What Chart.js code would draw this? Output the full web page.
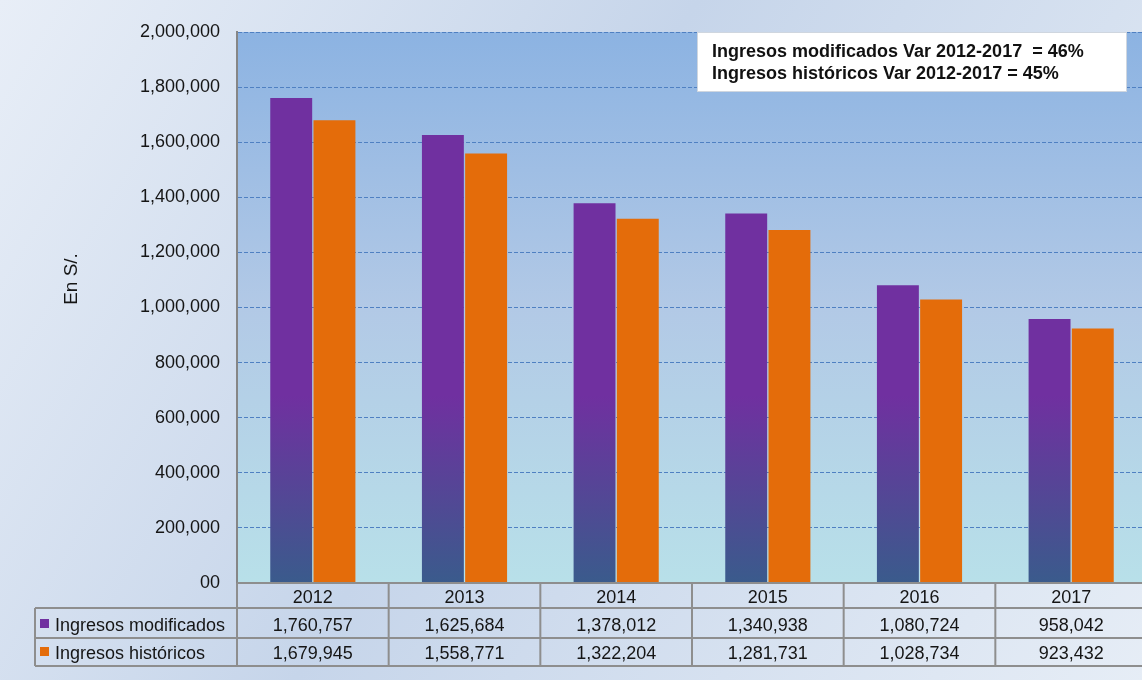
<!DOCTYPE html>
<html><head><meta charset="utf-8">
<script src="https://cdn.jsdelivr.net/npm/chart.js@4.4.1/dist/chart.umd.min.js"></script>
<style>html,body{margin:0;padding:0;overflow:hidden;width:1142px;height:680px;background:#dfe7f2}canvas{display:block}</style>
</head><body><canvas id="c" width="1147" height="680"></canvas>
<script>
const categories = ['2012','2013','2014','2015','2016','2017'];
const modificados = [1760757,1625684,1378012,1340938,1080724,958042];
const historicos = [1679945,1558771,1322204,1281731,1028734,923432];
const seriesNames = ['Ingresos modificados','Ingresos históricos'];
const noteLines = ['Ingresos modificados Var 2012-2017  = 46%','Ingresos históricos Var 2012-2017 = 45%'];
const yTitle = 'En S/.';
const yMax = 2000000, yStep = 200000;

const FONT = '"Liberation Sans", Arial, sans-serif';
const TXT = '#151515';
const PURPLE = '#7030a0', BLUEBOT = '#3a5b8c', ORANGE = '#e46c0a';
const fmt = v => v === 0 ? '00' : v.toLocaleString('en-US');

const bgPlugin = {
  id: 'bg',
  beforeDraw(chart) {
    const {ctx, chartArea: a, width, height} = chart;
    ctx.save();
    let g = ctx.createLinearGradient(0, 0, width, height);
    g.addColorStop(0, '#e8eef7'); g.addColorStop(0.45, '#c6d5ea'); g.addColorStop(1, '#e6edf6');
    ctx.fillStyle = g; ctx.fillRect(0, 0, width, height);
    g = ctx.createLinearGradient(0, a.top, 0, a.bottom);
    g.addColorStop(0, '#8cb3e2'); g.addColorStop(0.5, '#b2c9e6'); g.addColorStop(1, '#b8e0e9');
    ctx.fillStyle = g; ctx.fillRect(a.left, a.top, a.right - a.left, a.bottom - a.top);
    ctx.restore();
  }
};

const tablePlugin = {
  id: 'tbl',
  afterDraw(chart) {
    const {ctx, chartArea: a} = chart;
    const xs = chart.scales.x;
    const half = (xs.getPixelForValue(1) - xs.getPixelForValue(0)) / 2;
    const rows = [a.bottom, 608, 638, 666];
    const legL = 35, right = chart.width;
    ctx.save();
    ctx.strokeStyle = '#8e8e8e'; ctx.lineWidth = 2;
    ctx.beginPath();
    ctx.moveTo(a.left, rows[0]); ctx.lineTo(right, rows[0]);
    for (let r = 1; r < rows.length; r++) { ctx.moveTo(legL, rows[r]); ctx.lineTo(right, rows[r]); }
    ctx.moveTo(legL, rows[1]); ctx.lineTo(legL, rows[3]);
    ctx.moveTo(a.left, rows[0]); ctx.lineTo(a.left, rows[3]);
    categories.forEach((c, i) => {
      const xr = xs.getPixelForValue(i) + half;
      ctx.moveTo(xr, rows[0]); ctx.lineTo(xr, rows[3]);
    });
    ctx.stroke();
    ctx.fillStyle = TXT; ctx.font = '18px ' + FONT; ctx.textBaseline = 'alphabetic';
    ctx.textAlign = 'center';
    const series = [modificados, historicos];
    categories.forEach((c, i) => {
      const cx = xs.getPixelForValue(i);
      ctx.fillText(c, cx, 603);
      ctx.fillText(fmt(series[0][i]), cx, 631);
      ctx.fillText(fmt(series[1][i]), cx, 659);
    });
    ctx.textAlign = 'left';
    const cols = [PURPLE, ORANGE];
    seriesNames.forEach((n, k) => {
      const base = k === 0 ? 631 : 659;
      ctx.fillStyle = cols[k]; ctx.fillRect(40, base - 12, 9, 9);
      ctx.fillStyle = TXT; ctx.fillText(n, 55, base);
    });
    ctx.save();
    ctx.translate(77, 279); ctx.rotate(-Math.PI / 2);
    ctx.font = '19px ' + FONT;
    ctx.textAlign = 'center'; ctx.textBaseline = 'alphabetic';
    ctx.fillText(yTitle, 0, 0);
    ctx.restore();
    ctx.fillStyle = '#ffffff'; ctx.fillRect(697, 32, 430, 60);
    ctx.strokeStyle = '#cfd6df'; ctx.lineWidth = 1; ctx.strokeRect(697.5, 32.5, 429, 59);
    ctx.fillStyle = '#111'; ctx.font = 'bold 18px ' + FONT; ctx.textAlign = 'left';
    ctx.fillText(noteLines[0], 712, 57, 387);
    ctx.fillText(noteLines[1], 712, 79, 360);
    ctx.restore();
  }
};

function purpleGrad(c) {
  const chart = c.chart, a = chart.chartArea;
  if (!a) return PURPLE;
  const g = chart.ctx.createLinearGradient(0, a.top + (a.bottom - a.top) * 0.66, 0, a.bottom);
  g.addColorStop(0, PURPLE); g.addColorStop(1, BLUEBOT);
  return g;
}

new Chart(document.getElementById('c'), {
  type: 'bar',
  data: {
    labels: categories,
    datasets: [
      {label: seriesNames[0], data: modificados, backgroundColor: purpleGrad, borderWidth: 0},
      {label: seriesNames[1], data: historicos, backgroundColor: ORANGE, borderWidth: 0}
    ]
  },
  options: {
    responsive: false, animation: false, devicePixelRatio: 1,
    layout: {padding: {top: 32, bottom: 97, left: 0, right: 0}},
    categoryPercentage: 0.57, barPercentage: 0.97,
    plugins: {legend: {display: false}, tooltip: {enabled: false}, title: {display: false}},
    scales: {
      x: {display: false},
      y: {
        min: 0, max: yMax,
        afterFit(s) { s.width = 237; },
        ticks: {stepSize: yStep, padding: 17, color: TXT, font: {family: FONT, size: 18}, callback: v => fmt(v)},
        grid: {color: '#4f80c2', lineWidth: 1, drawTicks: false},
        border: {display: true, color: '#868686', width: 2, dash: [4, 2]}
      }
    }
  },
  plugins: [bgPlugin, tablePlugin]
});
</script>
</body></html>
